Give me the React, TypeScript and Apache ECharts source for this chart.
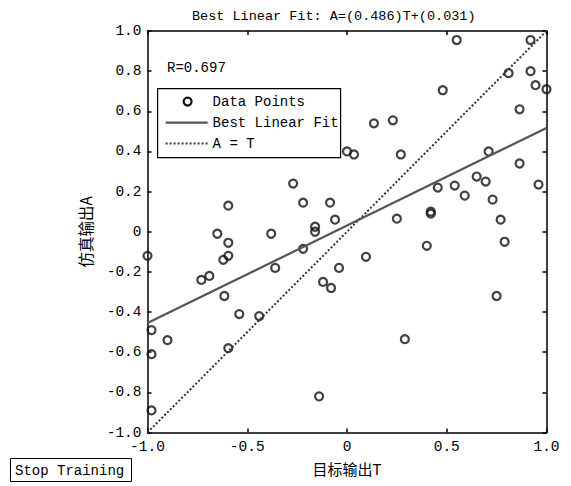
import React, { useEffect, useRef } from "react";
import * as echarts from "echarts";

const targetT: number[] = [
  -1.0, -0.98, -0.98, -0.98, -0.9, -0.73, -0.69, -0.65, -0.62, -0.615,
  -0.595, -0.595, -0.595, -0.595, -0.54, -0.44, -0.38, -0.36, -0.27, -0.22,
  -0.22, -0.16, -0.16, -0.14, -0.12, -0.085, -0.08, -0.06, -0.04, 0.0,
  0.035, 0.095, 0.135, 0.23, 0.25, 0.27, 0.29, 0.4, 0.42, 0.42,
  0.455, 0.48, 0.54, 0.55, 0.59, 0.65, 0.695, 0.71, 0.73, 0.75,
  0.77, 0.79, 0.81, 0.865, 0.865, 0.92, 0.92, 0.945, 0.96, 1.0,
];
const outputA: number[] = [
  -0.12, -0.49, -0.61, -0.89, -0.54, -0.24, -0.22, -0.01, -0.14, -0.32,
  0.13, -0.055, -0.12, -0.58, -0.41, -0.42, -0.01, -0.18, 0.24, 0.145,
  -0.085, 0.025, 0.0, -0.82, -0.25, 0.145, -0.28, 0.06, -0.18, 0.4,
  0.385, -0.125, 0.54, 0.555, 0.065, 0.385, -0.535, -0.07, 0.1, 0.09,
  0.22, 0.705, 0.23, 0.955, 0.18, 0.275, 0.25, 0.4, 0.16, -0.32,
  0.06, -0.05, 0.79, 0.61, 0.34, 0.955, 0.8, 0.73, 0.235, 0.71,
];
const fitSlope = 0.486;
const fitIntercept = 0.031;
const rValue = "0.697";
const axisRange: number[] = [-1, 1];

const MONO = "'Liberation Mono', 'DejaVu Sans Mono', monospace";
const CJK = "'Noto Sans CJK SC', sans-serif";

export default function App() {
  const ref = useRef<HTMLDivElement>(null);
  useEffect(() => {
    if (!ref.current) return;
    const chart = echarts.init(ref.current, undefined, { renderer: "svg" });
    const pts = targetT.map((t, i) => [t, outputA[i]]);
    const fitLine = axisRange.map((t) => [t, fitSlope * t + fitIntercept]);
    const idLine = axisRange.map((t) => [t, t]);
    const fmt = (v: number) => (Math.abs(v) < 1e-9 ? "0" : v.toFixed(1));
    const axisLine = { show: true, onZero: false, lineStyle: { color: "#000", width: 1.5 } };
    const axisTick = { show: true, inside: true, length: 4, lineStyle: { color: "#000", width: 1.5 } };
    const label = { fontFamily: MONO, fontSize: 14.5, color: "#000" };
    chart.setOption({
      animation: false,
      backgroundColor: "#fff",
      title: {
        text: `Best Linear Fit: A=(${fitSlope.toFixed(3)})T+(${fitIntercept.toFixed(3)})`,
        left: 187,
        top: 4,
        textStyle: { fontFamily: MONO, fontSize: 13.5, fontWeight: "normal", color: "#000" },
      },
      grid: { left: 147.5, right: 24.5, top: 31, bottom: 53.5, containLabel: false },
      xAxis: [
        {
          type: "value", min: -1, max: 1, interval: 0.5, position: "bottom",
          axisLine, axisTick, splitLine: { show: false },
          axisLabel: { ...label, formatter: fmt, margin: 7 },
          name: "目标输出T", nameLocation: "middle", nameGap: 28,
          nameTextStyle: { fontFamily: CJK, fontSize: 15, color: "#000" },
        },
        {
          type: "value", min: -1, max: 1, interval: 0.5, position: "top",
          axisLine, axisTick, splitLine: { show: false }, axisLabel: { show: false },
        },
      ],
      yAxis: [
        {
          type: "value", min: -1, max: 1, interval: 0.2, position: "left",
          axisLine, axisTick, splitLine: { show: false },
          axisLabel: { ...label, formatter: fmt, margin: 6 },
          name: "仿真输出A", nameLocation: "middle", nameGap: 55, nameRotate: 90,
          nameTextStyle: { fontFamily: CJK, fontSize: 15.5, color: "#000" },
        },
        {
          type: "value", min: -1, max: 1, interval: 0.2, position: "right",
          axisLine, axisTick, splitLine: { show: false }, axisLabel: { show: false },
        },
      ],
      series: [
        {
          type: "line", name: "A = T", data: idLine, showSymbol: false,
          lineStyle: { color: "#333", width: 2, type: [2, 2] },
        },
        {
          type: "line", name: "Best Linear Fit", data: fitLine, showSymbol: false,
          lineStyle: { color: "#555", width: 2.2 },
        },
        {
          type: "scatter", name: "Data Points", data: pts, symbol: "circle", symbolSize: 8,
          itemStyle: { color: "rgba(0,0,0,0)", borderColor: "#111", borderWidth: 2.2 },
        },
      ],
      graphic: [
        {
          type: "text", left: 167, top: 61, z: 100,
          style: { text: `R=${rValue}`, font: `14px ${MONO}`, fill: "#000" },
        },
        {
          type: "group", left: 157, top: 88, z: 100,
          children: [
            { type: "rect", shape: { x: 0, y: 0, width: 183, height: 69 }, style: { fill: "#fff", stroke: "#000", lineWidth: 1.2 } },
            { type: "circle", shape: { cx: 30, cy: 13, r: 4 }, style: { fill: "none", stroke: "#111", lineWidth: 2.2 } },
            { type: "text", x: 55, y: 13, style: { text: "Data Points", font: `14px ${MONO}`, fill: "#000", verticalAlign: "middle" } },
            { type: "line", shape: { x1: 8, y1: 34, x2: 50, y2: 34 }, style: { stroke: "#555", lineWidth: 2.2 } },
            { type: "text", x: 55, y: 34, style: { text: "Best Linear Fit", font: `14px ${MONO}`, fill: "#000", verticalAlign: "middle" } },
            { type: "line", shape: { x1: 8, y1: 55, x2: 50, y2: 55 }, style: { stroke: "#333", lineWidth: 2, lineDash: [2, 2] } },
            { type: "text", x: 55, y: 55, style: { text: "A = T", font: `14px ${MONO}`, fill: "#000", verticalAlign: "middle" } },
          ],
        },
        {
          type: "group", left: 10, top: 458, z: 100,
          children: [
            { type: "rect", shape: { x: 0.5, y: 0.5, width: 121, height: 23 }, style: { fill: "#fff", stroke: "#000", lineWidth: 1 } },
            { type: "text", x: 5, y: 12.5, style: { text: "Stop Training", font: `14px ${MONO}`, fill: "#000", verticalAlign: "middle" } },
          ],
        },
      ],
    });
    return () => chart.dispose();
  }, []);
  return (
    <div
      ref={ref}
      style={{ position: "fixed", left: 0, top: 0, width: 571, height: 486 }}
    />
  );
}
